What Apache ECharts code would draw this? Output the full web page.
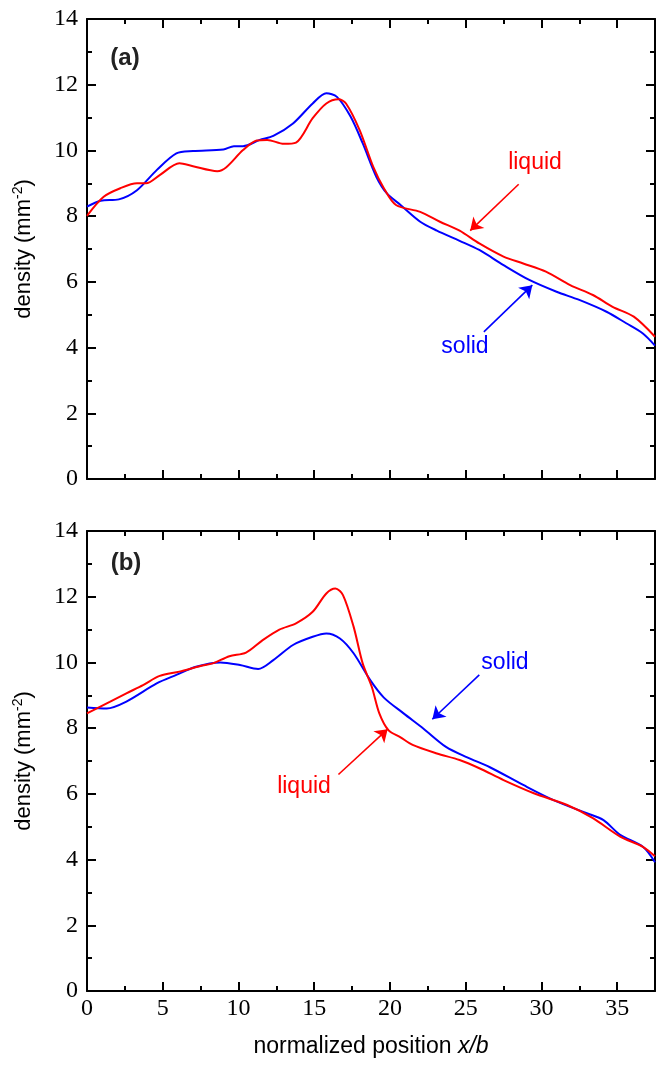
<!DOCTYPE html>
<html>
<head>
<meta charset="utf-8">
<script src="https://cdn.jsdelivr.net/npm/echarts@6/dist/echarts.min.js"></script>
<style>
  html, body { margin: 0; padding: 0; background: #fff; }
  #chart { width: 657px; height: 1065px; }
</style>
</head>
<body>
<div id="chart"></div>
<script>
// tick positions
const xMajor = [0, 5, 10, 15, 20, 25, 30, 35]
const xMinor = [2.5, 7.5, 12.5, 17.5, 22.5, 27.5, 32.5, 37.5]

// panel (a)
const aSolidX = [0, 0.9, 2.1, 3.3, 4.6, 5.9, 7.0, 9.0, 9.7, 10.3, 11.4, 12.3, 13.6, 14.9, 15.8, 16.5, 17.4, 18.2, 19.1, 19.8, 20.7, 22.0, 23.1, 24.6, 25.9, 27.5, 29.2, 31.0, 32.5, 34.3, 35.6, 36.7, 37.5]
const aSolidY = [8.29, 8.47, 8.51, 8.79, 9.40, 9.91, 9.98, 10.03, 10.13, 10.13, 10.32, 10.44, 10.82, 11.43, 11.74, 11.63, 11.03, 10.22, 9.20, 8.69, 8.34, 7.83, 7.56, 7.25, 6.97, 6.51, 6.06, 5.70, 5.45, 5.09, 4.74, 4.43, 4.06]
const aLiquidX = [0, 1.1, 2.2, 3.3, 3.9, 4.8, 6.1, 7.0, 8.6, 9.2, 10.3, 11.2, 11.9, 13.0, 13.8, 14.9, 15.8, 16.6, 17.1, 18.0, 18.9, 19.6, 20.4, 22.0, 23.3, 24.6, 25.9, 27.5, 28.8, 30.3, 31.9, 33.4, 34.7, 36.1, 37.5]
const aLiquidY = [8.01, 8.59, 8.85, 9.0, 9.0, 9.25, 9.61, 9.52, 9.37, 9.49, 10.01, 10.30, 10.32, 10.2, 10.24, 10.98, 11.43, 11.56, 11.43, 10.62, 9.50, 8.85, 8.34, 8.13, 7.83, 7.56, 7.17, 6.77, 6.56, 6.31, 5.90, 5.60, 5.24, 4.94, 4.33]

// panel (b)
const bSolidX = [0, 1.3, 2.6, 4.6, 5.9, 7.2, 8.8, 10.1, 11.3, 12.3, 13.6, 14.9, 15.8, 16.7, 17.6, 18.7, 19.6, 20.9, 22.2, 23.7, 25.1, 26.6, 28.8, 30.8, 33.0, 34.1, 35.2, 36.7, 37.5]
const bSolidY = [8.63, 8.60, 8.81, 9.36, 9.62, 9.87, 10.0, 9.92, 9.80, 10.07, 10.53, 10.78, 10.88, 10.73, 10.28, 9.46, 8.93, 8.45, 7.99, 7.43, 7.11, 6.81, 6.27, 5.81, 5.41, 5.20, 4.75, 4.39, 3.92]
const bLiquidX = [0, 1.5, 2.6, 3.7, 4.8, 6.1, 7.5, 8.3, 9.4, 10.5, 11.6, 12.7, 13.8, 14.9, 15.8, 16.4, 16.9, 17.6, 18.2, 18.8, 19.3, 19.9, 20.7, 21.5, 23.1, 24.6, 25.9, 27.5, 29.5, 31.7, 33.4, 35.2, 36.7, 37.5]
const bLiquidY = [8.45, 8.80, 9.06, 9.31, 9.59, 9.72, 9.89, 9.97, 10.19, 10.3, 10.68, 11.0, 11.19, 11.54, 12.1, 12.25, 12.05, 11.09, 9.97, 9.26, 8.45, 7.94, 7.72, 7.49, 7.23, 7.03, 6.78, 6.42, 6.02, 5.66, 5.26, 4.70, 4.39, 4.10]

// annotation arrows [x0, y0, x1, y1] (tail -> head)
const aLiquidArrow = [28.5, 8.97, 25.3, 7.56]
const aSolidArrow = [26.2, 4.48, 29.4, 5.90]
const bSolidArrow = [25.9, 9.62, 22.8, 8.27]
const bLiquidArrow = [16.6, 6.59, 19.85, 7.97]

const zip = (xs, ys) => xs.map((x, i) => [x, ys[i]])

const BLUE = "#0000ff"
const RED = "#ff0000"
const tickFont = { fontFamily: "Liberation Serif", fontSize: 24, color: "#000" }

const makeX = (gridIndex, position, ticks, len, main, withLabel) => ({
  type: "value",
  gridIndex,
  position,
  min: 0,
  max: 37.5,
  axisLine: { show: main, onZero: false, lineStyle: { color: "#000", width: 2 } },
  axisTick: { show: true, inside: true, length: len, customValues: ticks, lineStyle: { color: "#000", width: 2 } },
  axisLabel: withLabel ? { show: true, customValues: ticks, margin: 6, ...tickFont } : { show: false },
  splitLine: { show: false },
  name: withLabel ? "{a|normalized position }{i|x/b}" : "",
  nameLocation: "middle",
  nameGap: 44,
  nameTextStyle: {
    rich: {
      a: { fontFamily: "Liberation Sans", fontSize: 23, color: "#000" },
      i: { fontFamily: "Liberation Sans", fontSize: 23, fontStyle: "italic", color: "#000" },
    },
  },
})

const makeY = (gridIndex, position, withLabel) => ({
  type: "value",
  gridIndex,
  position,
  min: 0,
  max: 14,
  interval: 2,
  axisLine: { show: true, onZero: false, lineStyle: { color: "#000", width: 2 } },
  axisTick: { show: true, inside: true, length: 9, lineStyle: { color: "#000", width: 2 } },
  minorTick: { show: true, splitNumber: 2, length: 5, lineStyle: { color: "#000", width: 2 } },
  axisLabel: withLabel ? { show: true, margin: 9, ...tickFont } : { show: false },
  splitLine: { show: false },
  name: withLabel ? "{a|density (mm}{s|-2}{a|)}" : "",
  nameLocation: "middle",
  nameRotate: 90,
  nameGap: 50,
  nameTextStyle: {
    rich: {
      a: { fontFamily: "Liberation Sans", fontSize: 22, color: "#000", lineHeight: 26 },
      s: { fontFamily: "Liberation Sans", fontSize: 14, color: "#000", verticalAlign: "top" },
    },
  },
})

const arrowLine = (arr, color) => ({
  silent: true,
  symbol: ["none", "arrow"],
  symbolSize: 12,
  label: { show: false },
  itemStyle: { color },
  lineStyle: { color, width: 1.6, type: "solid" },
  emphasis: { disabled: true },
  data: [[{ coord: [arr[0], arr[1]] }, { coord: [arr[2], arr[3]] }]],
})

const lineSeries = (xs, ys, color, xi, yi, arrow) => ({
  type: "line",
  xAxisIndex: xi,
  yAxisIndex: yi,
  data: zip(xs, ys),
  smooth: 0.3,
  showSymbol: false,
  lineStyle: { color, width: 2 },
  itemStyle: { color },
  markLine: arrowLine(arrow, color),
  animation: false,
})

const labelText = (x, y, text, color, bold) => ({
  type: "text",
  x, y,
  style: {
    text,
    fill: color,
    font: (bold ? "bold " : "") + (bold ? 24 : 23) + "px 'Liberation Sans'",
    textAlign: "center",
    textVerticalAlign: "middle",
  },
})

const chart = echarts.init(document.getElementById("chart"))

chart.setOption({
  animation: false,
  grid: [
    { left: 87, top: 19, width: 568, height: 460 },
    { left: 87, top: 531, width: 568, height: 460 },
  ],
  xAxis: [
    makeX(0, "bottom", xMajor, 9, true, false),
    makeX(0, "bottom", xMinor, 5, false, false),
    makeX(0, "top", xMajor, 9, true, false),
    makeX(0, "top", xMinor, 5, false, false),
    makeX(1, "bottom", xMajor, 9, true, true),
    makeX(1, "bottom", xMinor, 5, false, false),
    makeX(1, "top", xMajor, 9, true, false),
    makeX(1, "top", xMinor, 5, false, false),
  ],
  yAxis: [
    makeY(0, "left", true),
    makeY(0, "right", false),
    makeY(1, "left", true),
    makeY(1, "right", false),
  ],
  series: [
    lineSeries(aSolidX, aSolidY, BLUE, 0, 0, aSolidArrow),
    lineSeries(aLiquidX, aLiquidY, RED, 0, 0, aLiquidArrow),
    lineSeries(bSolidX, bSolidY, BLUE, 4, 2, bSolidArrow),
    lineSeries(bLiquidX, bLiquidY, RED, 4, 2, bLiquidArrow),
  ],
  graphic: [
    labelText(125, 58, "(a)", "#222", true),
    labelText(126, 563, "(b)", "#222", true),
    labelText(535, 163, "liquid", RED, false),
    labelText(465, 347, "solid", BLUE, false),
    labelText(505, 663, "solid", BLUE, false),
    labelText(304, 787, "liquid", RED, false),
  ],
})
</script>
</body>
</html>
